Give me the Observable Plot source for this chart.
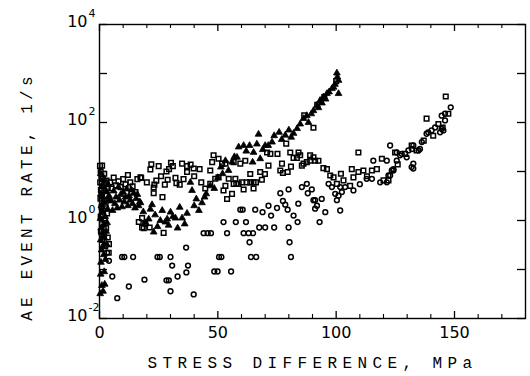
<!DOCTYPE html>
<html><head><meta charset="utf-8">
<script src="https://cdn.jsdelivr.net/npm/d3@7"></script>
<script src="https://cdn.jsdelivr.net/npm/@observablehq/plot@0.6"></script>
<style>body{margin:0;background:#fff} svg{display:block}</style>
</head><body><div id="chart"></div>
<script>
// [stress difference (MPa), AE event rate (1/s)]
const triangles = [
[0.3,0.032],[1.5,0.036],[1.0,0.047],[2.2,0.05],[0.5,0.08],[2.0,0.09],[0.6,0.14],[2.5,0.16],[1.8,0.2],[0.9,0.25],[1.4,0.3],[3.0,0.33],[0.5,0.4],[2.0,0.45],[1.1,0.55],[2.8,0.6],[0.7,0.7],[1.6,0.8],[3.2,0.9],[0.4,1.1],[2.4,1.2],[1.3,1.5],[3.5,1.7],[0.8,2.0],[2.0,2.3],[4.0,2.6],[1.5,3.0],[0.6,3.5],[2.8,4.0],[1.0,5.0],[3.6,5.5],[2.0,7.0],[0.5,9],
[4,3.2],[5,2.5],[5.5,1.6],[6,4.0],[6.5,2.2],[7,3.0],[7.5,1.8],[8,4.8],[8.5,2.6],[9,3.4],[9.5,1.9],[10,3.8],[10.5,2.4],[11,3.0],[11.5,4.4],[12,2.0],[12.5,3.2],[13,2.6],[13.5,4.2],[14,2.2],[14.5,3.6],[15,1.8],[15.5,2.8],[16,3.4],[16.5,2.0],[17,2.4],
[17.3,2.3],[18.5,1.5],[19.5,0.9],[20.8,1.07],[21.5,1.7],[22.2,2.1],[22.9,0.58],[23.5,1.3],[24.5,0.75],[25.7,1.0],[26.5,1.6],[27.8,0.93],[28.6,1.07],[29.2,0.8],[30,1.48],[31,1.2],[32.1,1.12],[33,0.7],[33.9,1.86],[34.9,1.12],[36,0.85],[37,1.4],[38.4,6.0],[39.1,4.1],[40,2.0],[40.9,2.75],[42,1.6],[43.3,2.3],[44.4,3.0],[45.1,3.5],[46.8,5.1],[48.5,4.5],[50,7.5],[51.3,12.3],[52,9],[53.2,16.6],[54.5,10.5],[56,15.5],[57,20],[58.1,19.5],[58.8,31.6],[60.9,33.9],[62,26],[63.4,33.9],[64.7,15.5],[65.1,24.5],[66.5,36.3],[67.2,57.5],[67.9,18.2],[69,28],[70,33.9],[71.3,33.9],[72.9,39.8],[73.8,53.7],[75.9,63],[77,45],[78.5,55],[80,70],[81,50],[82,60],[83.5,75],[84.8,93],[86.2,120],[87.6,138],[88.3,100],[89.5,150],[90.4,174],[91.9,224],[92.5,200],[93.2,282],[94,250],[94.6,331],[95.5,300],[96.1,389],[97,420],[98.2,490],[98.9,525],[99.5,600],[100.3,1023],[101,724],[101,389],[100.5,850]
];
const squares = [
[0.2,13],[1.1,13.2],[0.5,10],[2.0,9],[0.8,8],[1.5,7],[3.0,6.5],[0.3,6],[2.5,5.5],[1.2,5],[3.5,4.6],[0.6,4.2],[2.0,4],[1.0,3.4],[3.0,3.2],[0.4,2.8],[1.8,2.5],[2.6,2.2],[0.9,1.9],[1.5,1.6],[3.2,1.4],[0.5,1.2],[2.2,1.0],[1.0,0.85],[2.8,0.7],[0.6,0.6],[1.8,0.5],[3.5,0.45],[1.2,0.4],[2.4,0.3],[4.0,0.33],[3.9,0.22],
[4.5,6],[5,4.5],[6,7.5],[7,5.2],[8,6.3],[9,4.8],[10,7],[11,5.5],[12,8.5],[13,6],[14,5],[15.2,3.8],[16,7],[17.3,7.6],[17.6,7.4],[18,0.72],[18.7,0.7],[19.3,0.87],[21.2,0.72],[18,1.12],[16.6,0.93],[20,6],
[21.9,14.1],[25,12.9],[21.5,11],[30.2,15.1],[31,12.9],[29.4,11.2],[28.3,10],[34.9,14.5],[37,12.9],[38.5,13.8],[39.8,11.5],[42.3,11.2],[37,9.8],[32.1,7.4],[32.5,5.8],[33.9,5.4],[28.8,6.8],[27.6,5.4],[22.9,4.7],[22.9,3.6],[26.6,3.0],[23.2,5.4],[27.1,0.56],[24,6.5],[26,8],[35.5,7],[40,8],[43,6],[44.7,4.5],[46.8,5.6],[48.9,7.1],[50.3,7.6],
[48.2,21.4],[50.3,18.2],[47.6,15.5],[46.8,10.5],[51.8,14.5],[53.2,14.5],[56.7,15.5],[59.5,14.5],[61.6,16.6],[70.8,24.5],[72.2,22.9],[75.2,22.9],[78.9,37],[80.6,24.5],[82,19],[84.1,24.5],[83.4,19],[77.1,14.5],[76.4,10.5],[71.4,13.2],[69.9,8.9],[63.7,8.9],[67.9,9.8],[68.6,6.8],[56.7,5.6],[57.8,5.6],[58.8,5.6],[60.2,6],[62.3,6],[63.7,6],[65.1,6],[66.1,6],[60.9,4.3],[65.1,4.5],[54.6,7.1],[57.4,7.1],[53.2,5.1],[56,3.5],[53.9,2.75],[52.4,4.1],
[84.8,21.4],[87.6,15.5],[89,16.6],[91.1,16.6],[92.5,16.6],[90.4,19.5],[85.5,13.2],[80.9,12.6],[79.5,9.8],[77.5,9.3],[86.2,14.5],[89,21.4],[94.6,11.7],[96.1,11.2],[90.4,78],[86.5,140],[92,230],[95,330],[100,700],
[97.5,8.3],[98.9,7.6],[100.3,5.6],[103.1,6.6],[105.9,5.1],[107.3,7.6],[109.4,9.8],[111.5,10.5],[115.1,10.5],[117.2,11.2],[120,6.6],[122.1,6.6],[106.6,11.2],[109.4,24.5],[119.3,18.2],[124.9,24.5],[129.1,22.9],[131.9,33.9],[134,26.9],[137,42.7],[141,53.7],[143.2,93],[145,79],[146.3,339],[138.2,120],[147.4,151],[102,9],[113,8],[126,14]
];
const circles = [
[2.5,0.3],[3.2,0.22],[9.5,0.18],[10.5,0.18],[14.2,0.18],[24.5,0.18],[25.5,0.18],[30,0.18],[36.6,0.28],[30.7,0.12],[37.4,0.12],[5.4,0.072],[19,0.062],[28.3,0.06],[29.3,0.06],[33,0.072],[36.7,0.087],[12.4,0.045],[30,0.036],[7.5,0.026],[39.8,0.031],[2,0.5],[4,0.15],
[52.4,0.93],[57.6,0.93],[61.9,0.93],[67.5,0.72],[70,0.72],[73.8,0.72],[79.9,0.72],[83.7,0.93],[44,0.55],[45.7,0.55],[47.1,0.55],[53.9,0.55],[60.9,0.55],[63,0.55],[64.9,0.55],[63.4,0.36],[80.3,0.36],[50.5,0.18],[51.5,0.18],[64,0.18],[66.2,0.18],[80.9,0.18],[48.5,0.091],[49.9,0.091],[55.6,0.091],
[76.4,3.6],[79.9,4.3],[77.5,2.5],[78.5,2.1],[79.5,1.66],[71.4,2.0],[75,1.8],[72.5,1.26],[82,1.26],[65.8,1.66],[68.9,1.48],[59.5,1.66],[60.5,1.66],[85.5,4.8],[87.6,5.6],[89.7,4.3],[90.4,2.6],[93.9,2.75],[91.1,1.74],[91.9,2.0],[95.4,1.48],[93,0.93],[91.1,2.6],[88,3.6],[84,2.2],
[96.8,5.6],[98.2,4.8],[101.7,4.8],[103.8,4.8],[112.9,7.1],[115.1,7.1],[118.6,6],[121.4,6],[99.6,3.5],[101,3.2],[100.3,2.6],[102.4,3.8],[107.3,4.1],[101.7,1.6],[115.7,16.6],[121.4,16.6],[122.8,33.9],[123.5,10.5],[122.1,8.3],[124.2,11.2],[125.6,16.6],[127,21.4],[127.7,22.9],[129.8,19.5],[130.5,26.9],[132,28.8],[132.6,33.9],[134.8,26.9],[135.4,28.8],[136.2,39.8],[138.2,59],[138.9,63],[140.3,69],[141.8,79],[143.9,63],[144.6,74],[145.3,69],[144.6,138],[146,151],[146,110],[148.4,204],[132.6,14.5],[132.6,11.5],[131.9,12.3],[124.2,10.5],[122.8,8.3],[110,5.5],[125.6,24.5]
];
const xMajorTicks = [0, 50, 100, 150];
const xMinorTicks = [10, 20, 30, 40, 60, 70, 80, 90, 110, 120, 130, 140, 160, 170];
const yTicks = [1e-2, 1e-1, 1, 10, 100, 1e3, 1e4];
const yLabelTicks = [1e-2, 1, 1e2, 1e4];
const yExponents = ["-2", "0", "2", "4"];
const xLabel = "STRESS DIFFERENCE, MPa";
const yLabel = "AE EVENT RATE, 1/s";

const W = 530, H = 376, mL = 99, mR = 5, mT = 24, mB = 58;
const iw = W - mL - mR, ih = H - mT - mB;

const chart = Plot.plot({
  width: W, height: H,
  marginLeft: mL, marginRight: mR, marginTop: mT, marginBottom: mB,
  style: {fontFamily: "DejaVu Sans", fontSize: "16px", color: "black", background: "white"},
  x: {domain: [0, 180]},
  y: {type: "log", domain: [1e-2, 1e4]},
  marks: [
    Plot.frame({stroke: "black", strokeWidth: 1.4}),
    Plot.tickX(xMajorTicks, {x: d => d, insetTop: ih - 7, strokeWidth: 1.3}),
    Plot.tickX(xMajorTicks, {x: d => d, insetBottom: ih - 7, strokeWidth: 1.3}),
    Plot.tickX(xMinorTicks, {x: d => d, insetTop: ih - 4, strokeWidth: 1.1}),
    Plot.tickX(xMinorTicks, {x: d => d, insetBottom: ih - 4, strokeWidth: 1.1}),
    Plot.tickY(yTicks, {y: d => d, insetRight: iw - 8, strokeWidth: 1.3}),
    Plot.tickY(yTicks, {y: d => d, insetLeft: iw - 8, strokeWidth: 1.3}),
    Plot.axisX({ticks: xMajorTicks, tickSize: 0, tickPadding: 8, label: null, fontSize: 16}),
    Plot.axisY({ticks: yLabelTicks, tickFormat: () => "10", tickSize: 0, tickPadding: 12, dy: -3, label: null, fontSize: 16}),
    Plot.axisY({ticks: yLabelTicks, tickFormat: d => yExponents[yLabelTicks.indexOf(d)], tickSize: 0, tickPadding: 11, textAnchor: "start", dy: -11, label: null, fontSize: 11}),
    Plot.text([xLabel], {text: d => d, frameAnchor: "bottom", dy: 44, lineAnchor: "middle", fontFamily: "Liberation Mono", fontSize: 16}),
    Plot.text([yLabel], {text: d => d, frameAnchor: "left", textAnchor: "middle", dx: -73, dy: 25, rotate: -90, lineAnchor: "middle", fontFamily: "Liberation Mono", fontSize: 16}),
    Plot.dot(circles, {x: d => d[0], y: d => d[1], symbol: "circle", r: 2.4, stroke: "black", strokeWidth: 1.5, fill: "none"}),
    Plot.dot(squares, {x: d => d[0], y: d => d[1], symbol: "square", r: 2.6, stroke: "black", strokeWidth: 1.5, fill: "none"}),
    Plot.dot(triangles, {x: d => d[0], y: d => d[1], symbol: "triangle", r: 2.5, fill: "black", stroke: "black", strokeWidth: 0.8})
  ]
});
d3.select(chart).selectAll("text").filter(function(){ return this.textContent === xLabel; }).attr("letter-spacing", "5.4px");
d3.select(chart).selectAll("text").filter(function(){ return this.textContent === yLabel; }).attr("letter-spacing", "4.2px");
document.getElementById("chart").appendChild(chart);
</script>
</body></html>
